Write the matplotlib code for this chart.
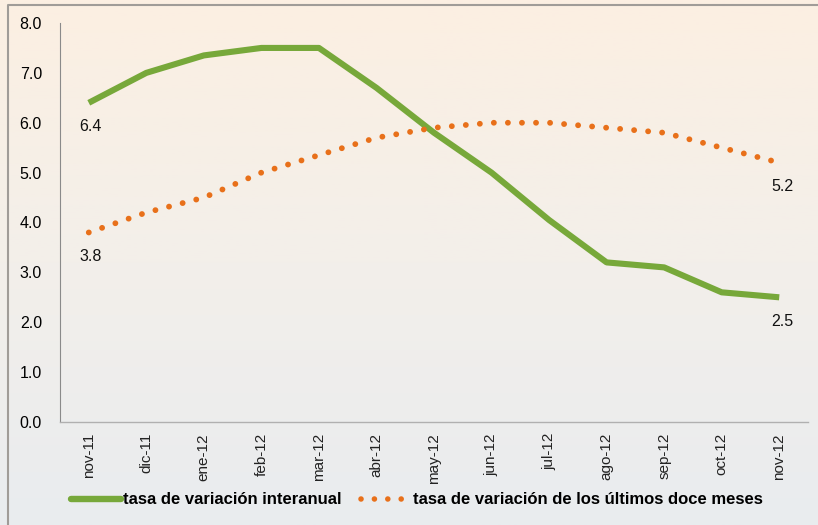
import matplotlib
matplotlib.use("Agg")
import matplotlib.pyplot as plt
import numpy as np
from matplotlib.lines import Line2D
from matplotlib.colors import LinearSegmentedColormap

categories = ["nov-11", "dic-11", "ene-12", "feb-12", "mar-12", "abr-12", "may-12",
              "jun-12", "jul-12", "ago-12", "sep-12", "oct-12", "nov-12"]
interanual = [6.4, 7.0, 7.35, 7.5, 7.5, 6.7, 5.8, 5.0, 4.05, 3.2, 3.1, 2.6, 2.5]
doce_meses = [3.8, 4.2, 4.5, 5.0, 5.35, 5.7, 5.9, 6.0, 6.0, 5.9, 5.8, 5.5, 5.2]
yticks = [0.0, 1.0, 2.0, 3.0, 4.0, 5.0, 6.0, 7.0, 8.0]
label_interanual = "tasa de variación interanual"
label_doce = "tasa de variación de los últimos doce meses"

green = "#77a83a"
orange = "#e8701a"

fig = plt.figure(figsize=(8.18, 5.25), dpi=100)

# background gradient
bg = fig.add_axes([0, 0, 1, 1], zorder=-10)
cmap = LinearSegmentedColormap.from_list("bg", ["#fcefe2", "#f3efea", "#e9ecef"])
grad = np.linspace(0, 1, 256).reshape(-1, 1)
bg.imshow(grad, aspect="auto", cmap=cmap, extent=[0, 1, 0, 1], origin="upper")
bg.set_xlim(0, 1); bg.set_ylim(0, 1)
bg.axis("off")
# frame
bg.plot([8/818, 8/818, 1], [0, 1-5/525, 1-5/525], color="#a09c98", lw=1.5, clip_on=False)

ax = fig.add_axes([60/818, 103/525, 748/818, 399/525])
ax.patch.set_alpha(0)
x = np.arange(len(categories))
ax.plot(x, interanual, color=green, lw=4.4, solid_capstyle="butt", solid_joinstyle="round", zorder=3)
ax.plot(x, doce_meses, color=orange, lw=4.2, linestyle=(0, (0.01, 2.4)),
        dash_capstyle="round", zorder=3)

ax.set_xlim(-0.5, len(categories) - 0.5)
ax.set_ylim(0, 8)
ax.set_yticks(yticks)
ax.set_yticklabels([f"{v:.1f}" for v in yticks], fontsize=11.5, fontfamily="Liberation Sans")
ax.set_xticks(x)
ax.set_xticklabels(categories, rotation=90, fontsize=11, fontfamily="Liberation Sans", color="#222222")
ax.tick_params(axis="both", length=0, pad=8)
ax.tick_params(axis="y", pad=13)
for s in ["top", "right"]:
    ax.spines[s].set_visible(False)
ax.spines["left"].set_color("#8a8a8a")
ax.spines["bottom"].set_color("#b0b0b0")
ax.spines["left"].set_linewidth(0.8)
ax.spines["bottom"].set_linewidth(1.0)

lbl = dict(fontsize=11.5, fontfamily="Liberation Sans", ha="center", va="top", color="#111111")
ax.annotate(f"{interanual[0]:.1f}", (x[0], interanual[0]), xytext=(1, -12), textcoords="offset points", **lbl)
ax.annotate(f"{doce_meses[0]:.1f}", (x[0], doce_meses[0]), xytext=(1, -12), textcoords="offset points", **lbl)
ax.annotate(f"{doce_meses[-1]:.1f}", (x[-1], doce_meses[-1]), xytext=(2, -12), textcoords="offset points", **lbl)
ax.annotate(f"{interanual[-1]:.1f}", (x[-1], interanual[-1]), xytext=(2, -12), textcoords="offset points", **lbl)

handles = [Line2D([], [], color=green, lw=4.6, solid_capstyle="round"),
           Line2D([], [], color=orange, lw=4.0, linestyle=(0, (0.01, 2.4)), dash_capstyle="round")]
leg = fig.legend(handles, [label_interanual, label_doce], loc="center",
                 bbox_to_anchor=(0.51, 1 - 500/525), ncol=2, frameon=False,
                 handlelength=3.0, handletextpad=0.1, columnspacing=1.2,
                 prop={"family": "Liberation Sans", "weight": "bold", "size": 12})

fig.savefig("out.png", dpi=100)
